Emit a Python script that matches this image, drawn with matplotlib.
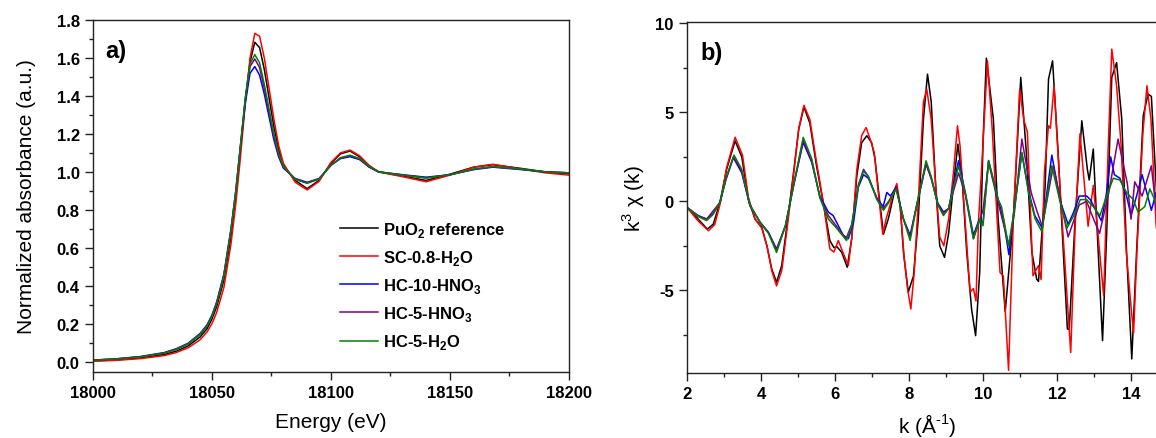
import matplotlib
matplotlib.use("Agg")
import matplotlib.pyplot as plt
from matplotlib.ticker import MultipleLocator, FormatStrFormatter

# ---------------------- DATA ----------------------
# a) XANES, normalized absorbance
energy = [18000, 18010, 18020, 18030, 18035, 18040, 18045, 18048, 18050, 18052,
          18055, 18058, 18060, 18062, 18064, 18066, 18068, 18070, 18072, 18074,
          18076, 18078, 18080, 18085, 18090, 18095, 18100, 18104, 18108, 18112,
          18116, 18120, 18130, 18140, 18150, 18160, 18168, 18180, 18190, 18200]
xanes_puo2 = [0.004, 0.010, 0.020, 0.038, 0.055, 0.083, 0.130, 0.175, 0.225, 0.290,
              0.430, 0.660, 0.870, 1.120, 1.380, 1.580, 1.683, 1.655, 1.540, 1.390,
              1.240, 1.120, 1.035, 0.955, 0.912, 0.955, 1.045, 1.095, 1.110, 1.080,
              1.030, 1.000, 0.978, 0.955, 0.988, 1.025, 1.038, 1.018, 1.000, 0.990]
xanes_sc08 = [0.002, 0.007, 0.016, 0.032, 0.048, 0.073, 0.115, 0.158, 0.200, 0.260,
              0.390, 0.620, 0.830, 1.080, 1.360, 1.600, 1.730, 1.715, 1.600, 1.440,
              1.280, 1.140, 1.045, 0.945, 0.905, 0.950, 1.050, 1.100, 1.115, 1.085,
              1.035, 1.000, 0.975, 0.948, 0.983, 1.025, 1.040, 1.015, 0.995, 0.983]
xanes_hc10 = [0.008, 0.015, 0.027, 0.048, 0.068, 0.097, 0.148, 0.195, 0.245, 0.315,
              0.460, 0.700, 0.900, 1.140, 1.360, 1.520, 1.555, 1.510, 1.410, 1.290,
              1.170, 1.080, 1.020, 0.965, 0.945, 0.965, 1.035, 1.070, 1.080, 1.065,
              1.025, 1.000, 0.985, 0.972, 0.985, 1.012, 1.025, 1.012, 1.000, 0.995]
xanes_hc5n = [0.008, 0.015, 0.026, 0.046, 0.066, 0.095, 0.145, 0.192, 0.242, 0.310,
              0.455, 0.695, 0.895, 1.140, 1.380, 1.555, 1.595, 1.550, 1.440, 1.315,
              1.190, 1.090, 1.025, 0.962, 0.942, 0.963, 1.035, 1.072, 1.085, 1.068,
              1.028, 1.000, 0.984, 0.969, 0.985, 1.014, 1.027, 1.014, 1.000, 0.995]
xanes_hc5w = [0.007, 0.014, 0.025, 0.045, 0.064, 0.093, 0.142, 0.188, 0.238, 0.305,
              0.450, 0.690, 0.890, 1.140, 1.390, 1.570, 1.618, 1.575, 1.460, 1.330,
              1.200, 1.100, 1.030, 0.960, 0.940, 0.962, 1.035, 1.075, 1.088, 1.070,
              1.030, 1.000, 0.983, 0.967, 0.985, 1.015, 1.028, 1.015, 1.000, 0.995]

# b) EXAFS, k3-weighted chi(k)
k_puo2 = [2.0, 2.3, 2.55, 2.71, 2.89, 3.07, 3.3, 3.48, 3.66, 3.84, 4.02, 4.16, 4.29, 4.42,
          4.56, 4.7, 4.88, 5.02, 5.16, 5.32, 5.5, 5.68, 5.86, 5.97, 6.05, 6.18, 6.33, 6.45,
          6.59, 6.72, 6.86, 6.99, 7.08, 7.17, 7.31, 7.44, 7.58, 7.65, 7.76, 7.85, 7.98, 8.12,
          8.25, 8.39, 8.5, 8.6, 8.72, 8.83, 8.96, 9.07, 9.2, 9.32, 9.43, 9.56, 9.69, 9.8,
          9.91, 10.0, 10.09, 10.28, 10.41, 10.6, 10.82, 11.02, 11.17, 11.32, 11.45, 11.5,
          11.68, 11.77, 11.88, 12.03, 12.17, 12.28, 12.33, 12.49, 12.67, 12.82, 12.87,
          12.98, 13.07, 13.23, 13.34, 13.48, 13.61, 13.75, 13.88, 14.02, 14.15, 14.33,
          14.46, 14.55, 14.68, 14.8]
chi_puo2 = [-0.34, -0.99, -1.56, -1.28, -0.06, 1.8, 3.4, 2.5, 0.1, -1.0, -1.45, -2.5, -3.8, -4.55,
            -3.6, -1.37, 1.63, 4.06, 5.3, 4.4, 2.0, -0.06, -2.2, -2.6, -2.55, -2.86, -3.7, -2.1,
            1.44, 3.3, 3.69, 3.3, 2.4, 0.69, -1.84, -0.99, 0.3, 0.85, -0.2, -2.85, -5.1, -4.2,
            -1.0, 4.62, 7.15, 5.6, 0.9, -2.5, -3.15, -1.8, 0.9, 3.22, 1.44, -2.85, -6.05, -7.55,
            -4.0, 3.3, 8.05, 4.62, -1.0, -6.2, -1.0, 6.97, 2.75, -2.85, -4.37, -4.5,
            0.88, 6.87, 7.9, 2.75, -2.85, -7.17, -7.2, -1.0, 4.53, 1.8, 1.2,
            2.94, -1.0, -7.83, -1.93, 6.97, 7.8, 4.62, -2.85, -8.86, -2.85, 4.81,
            6.03, 5.9, 0.9, -3.5]

k_sc08 = [2.0, 2.3, 2.58, 2.75, 2.9, 3.07, 3.3, 3.5, 3.66, 3.84, 4.02, 4.16, 4.29, 4.42, 4.56,
          4.7, 4.88, 5.02, 5.16, 5.32, 5.5, 5.68, 5.8, 5.86, 5.97, 6.09, 6.18, 6.27, 6.36, 6.45,
          6.59, 6.72, 6.84, 6.95, 7.06, 7.17, 7.29, 7.38, 7.49, 7.58, 7.67, 7.76, 7.87, 7.96,
          8.05, 8.14, 8.25, 8.39, 8.48, 8.6, 8.72, 8.83, 8.94, 9.07, 9.2, 9.31, 9.38, 9.52,
          9.65, 9.74, 9.81, 9.88, 9.95, 10.12, 10.25, 10.46, 10.55, 10.69, 10.82, 10.99,
          11.1, 11.2, 11.25, 11.35, 11.5, 11.57, 11.66, 11.77, 11.82, 11.92, 12.09, 12.22,
          12.37, 12.49, 12.62, 12.73, 12.84, 12.98, 13.07, 13.26, 13.38, 13.48, 13.61,
          13.73, 13.87, 13.99, 14.07, 14.16, 14.32, 14.43, 14.54, 14.68, 14.8]
chi_sc08 = [-0.34, -1.1, -1.65, -1.3, -0.1, 1.9, 3.6, 2.6, 0.2, -1.0, -1.5, -2.5, -3.9, -4.75, -3.9,
            -1.6, 1.5, 4.1, 5.4, 4.6, 2.2, 0.0, -1.8, -2.67, -2.85, -2.2, -2.7, -3.15, -3.6, -2.1,
            1.8, 3.7, 4.15, 3.5, 2.75, 0.5, -1.84, -1.0, -0.2, 0.5, 1.0, -0.2, -3.2, -4.9,
            -6.05, -4.0, 0.0, 5.6, 6.3, 4.6, 0.9, -2.0, -2.5, -1.0, 1.6, 4.25, 3.1, -1.2,
            -5.1, -4.9, -5.6, -1.0, 1.4, 7.9, 4.0, -4.0, -4.2, -9.5, -1.0, 6.3,
            4.6, 3.9, 1.2, -4.18, -3.6, -4.4, 1.7, 4.25, 4.1, 6.5, 0.4, -3.7,
            -8.5, -1.4, 3.8, 1.2, -1.4, 0.9, -1.0, -5.3, 2.8, 8.56, 6.5,
            3.2, -2.8, -5.7, -7.4, -2.8, 3.8, 6.5, 4.6, -1.4, -3.0]

k_hc10 = [2.0, 2.3, 2.53, 2.7, 2.89, 3.05, 3.25, 3.48, 3.7, 3.98, 4.2, 4.42, 4.66, 4.88, 5.14,
          5.37, 5.59, 5.82, 5.95, 6.22, 6.36, 6.5, 6.63, 6.77, 6.9, 7.13, 7.3, 7.4, 7.5, 7.65,
          7.85, 8.03, 8.21, 8.46, 8.6, 8.78, 8.93, 9.07, 9.34, 9.52, 9.74, 9.9, 10.0, 10.15,
          10.28, 10.41, 10.55, 10.7, 10.82, 11.05, 11.23, 11.4, 11.6, 11.86, 12.09, 12.3,
          12.45, 12.6, 12.8, 12.9, 13.2, 13.34, 13.45, 13.55, 13.7, 13.88, 14.0, 14.15,
          14.3, 14.45, 14.55, 14.68, 14.8]
chi_hc10 = [-0.34, -0.8, -0.99, -0.7, -0.06, 1.2, 2.47, 1.6, -0.25, -1.18, -1.74, -2.68, -1.37, 0.88, 3.32,
            2.2, 0.3, -0.6, -0.8, -1.9, -2.1, -1.2, 0.8, 1.5, 1.3, 0.2, -0.3, 0.5, 0.3, 0.8,
            -1.0, -1.9, -0.2, 2.1, 1.3, -0.1, -0.6, -0.4, 2.3, 0.5, -1.9, -1.0, -1.2, 2.3,
            1.2, 0.1, -1.0, -3.0, -0.8, 2.7, 0.6, -0.8, -1.5, 2.6, 0.0, -1.3,
            -0.6, 0.3, 0.3, 0.1, -1.1, 0.5, 2.5, 1.5, 1.3, 0.3, -0.8, 0.3,
            1.5, 0.3, -0.5, 0.5, 0.2]

k_hc5n = [2.0, 2.3, 2.53, 2.89, 3.05, 3.26, 3.48, 3.7, 3.98, 4.2, 4.42, 4.66, 4.88, 5.14, 5.37,
          5.59, 5.82, 6.04, 6.3, 6.45, 6.63, 6.77, 6.9, 7.13, 7.3, 7.45, 7.65, 7.85, 8.03, 8.21,
          8.46, 8.6, 8.78, 8.93, 9.07, 9.34, 9.52, 9.74, 10.0, 10.15, 10.4, 10.7, 10.85, 11.05,
          11.3, 11.45, 11.6, 11.9, 12.1, 12.3, 12.6, 12.8, 12.95, 13.15, 13.4, 13.65, 13.9,
          14.0, 14.1, 14.3, 14.55, 14.68, 14.8]
chi_hc5n = [-0.34, -0.82, -1.0, -0.06, 1.25, 2.5, 1.7, -0.2, -1.2, -1.75, -2.75, -1.37, 0.9, 3.45, 2.3,
            0.25, -0.8, -1.4, -2.1, -1.3, 0.9, 1.8, 1.4, 0.15, -0.4, 0.0, 0.75, -1.0, -2.0, -0.2,
            2.1, 1.3, -0.2, -0.7, -0.4, 1.6, 0.4, -2.1, -0.5, 2.2, 0.0, -2.5, -0.6, 3.5,
            0.5, -0.5, -1.4, 2.0, 0.0, -2.0, -0.2, 0.0, -0.8, -1.8, 0.5, 3.5, 1.0,
            -1.0, 1.1, 0.3, 2.0, -0.5, 0.3]

k_hc5w = [2.0, 2.3, 2.53, 2.7, 2.89, 3.05, 3.27, 3.48, 3.7, 3.98, 4.2, 4.42, 4.66, 4.88, 5.14,
          5.37, 5.59, 5.82, 6.04, 6.31, 6.45, 6.63, 6.77, 6.9, 7.13, 7.31, 7.44, 7.65, 7.85,
          8.03, 8.21, 8.46, 8.6, 8.78, 8.93, 9.07, 9.34, 9.52, 9.74, 9.91, 10.0, 10.15, 10.28,
          10.41, 10.5, 10.69, 10.82, 11.05, 11.23, 11.41, 11.59, 11.86, 12.09, 12.27, 12.45,
          12.63, 12.8, 12.98, 13.16, 13.34, 13.52, 13.7, 13.88, 14.06, 14.19, 14.37, 14.51,
          14.68, 14.8]
chi_hc5w = [-0.34, -0.85, -1.08, -0.75, -0.06, 1.3, 2.6, 1.8, -0.2, -1.2, -1.8, -2.87, -1.37, 0.9, 3.6,
            2.4, 0.2, -1.0, -1.5, -2.2, -1.4, 0.9, 1.7, 1.4, 0.1, -0.5, -0.1, 0.7, -1.0,
            -2.2, -0.2, 2.28, 1.4, -0.2, -0.8, -0.4, 2.0, 0.5, -2.1, -1.0, -1.37, 2.28, 1.2,
            0.1, -0.3, -2.5, -0.8, 2.75, 0.5, -1.0, -1.7, 2.0, -0.1, -1.5, -0.8,
            0.1, 0.1, -0.3, -0.8, 0.3, 1.3, 1.2, 0.5, 0.1, -0.6, -0.3, 0.7,
            -0.1, 0.2]

labels = [r"PuO$_\mathbf{2}$ reference", r"SC-0.8-H$_\mathbf{2}$O", r"HC-10-HNO$_\mathbf{3}$",
          r"HC-5-HNO$_\mathbf{3}$", r"HC-5-H$_\mathbf{2}$O"]
colors = ["#000000", "#ff0000", "#0000ff", "#800080", "#008000"]

# ---------------------- STYLE ----------------------
plt.rcParams["font.family"] = ["Liberation Sans", "DejaVu Sans"]
plt.rcParams["mathtext.fontset"] = "custom"
plt.rcParams["mathtext.rm"] = "Liberation Sans"
plt.rcParams["mathtext.bf"] = "Liberation Sans:bold"
plt.rcParams["axes.unicode_minus"] = False

fig = plt.figure(figsize=(11.56, 4.39), dpi=100)
ax_a = fig.add_axes([0.0804, 0.151, 0.4118, 0.801])
ax_b = fig.add_axes([0.5943, 0.148, 0.4161, 0.8003])


def style_axes(ax):
    for sp in ax.spines.values():
        sp.set_linewidth(1.0)
        sp.set_color("#222222")
    ax.tick_params(which="major", direction="out", length=5.5, width=1.0,
                   labelsize=12, pad=4, color="#222222")
    ax.tick_params(which="minor", direction="out", length=3, width=1.0, color="#222222")
    for lab in ax.get_xticklabels() + ax.get_yticklabels():
        lab.set_fontweight("bold")


# ---------------------- a) XANES ----------------------
for y, c, lab in zip([xanes_puo2, xanes_sc08, xanes_hc10, xanes_hc5n, xanes_hc5w], colors, labels):
    ax_a.plot(energy, y, color=c, lw=1.1, label=lab)

ax_a.set_xlim(18000, 18200)
ax_a.set_ylim(-0.053, 1.8)
ax_a.xaxis.set_major_locator(MultipleLocator(50))
ax_a.xaxis.set_minor_locator(MultipleLocator(25))
ax_a.yaxis.set_major_locator(MultipleLocator(0.2))
ax_a.yaxis.set_minor_locator(MultipleLocator(0.1))
ax_a.yaxis.set_major_formatter(FormatStrFormatter("%.1f"))
ax_a.set_xlabel("Energy (eV)", fontsize=15, labelpad=9)
ax_a.set_ylabel("Normalized absorbance (a.u.)", fontsize=15, labelpad=15)
style_axes(ax_a)
ax_a.text(0.026, 0.945, "a)", transform=ax_a.transAxes, fontsize=17,
          fontweight="bold", ha="left", va="top")

leg = ax_a.legend(loc="center left", bbox_to_anchor=(0.519, 0.245), frameon=False,
                  borderpad=0, borderaxespad=0, handlelength=2.25, handletextpad=0.3,
                  labelspacing=0.55, prop={"size": 12, "weight": "bold"})

# ---------------------- b) EXAFS ----------------------
for kk, y, c in zip([k_puo2, k_sc08, k_hc10, k_hc5n, k_hc5w],
                    [chi_puo2, chi_sc08, chi_hc10, chi_hc5n, chi_hc5w], colors):
    ax_b.plot(kk, y, color=c, lw=1.1)

ax_b.set_xlim(2, 15)
ax_b.set_ylim(-9.65, 10.1)
ax_b.xaxis.set_major_locator(MultipleLocator(2))
ax_b.xaxis.set_minor_locator(MultipleLocator(1))
ax_b.yaxis.set_major_locator(MultipleLocator(5))
ax_b.yaxis.set_minor_locator(MultipleLocator(2.5))
ax_b.set_xlabel(r"k (Å$^{\text{-1}}$)", fontsize=15, labelpad=7)
ax_b.set_ylabel(r"k$^{\mathrm{3}}$ χ (k)", fontsize=15, labelpad=6)
style_axes(ax_b)
ax_b.text(0.029, 0.945, "b)", transform=ax_b.transAxes, fontsize=17,
          fontweight="bold", ha="left", va="top")

fig.savefig("out.png", dpi=100)
